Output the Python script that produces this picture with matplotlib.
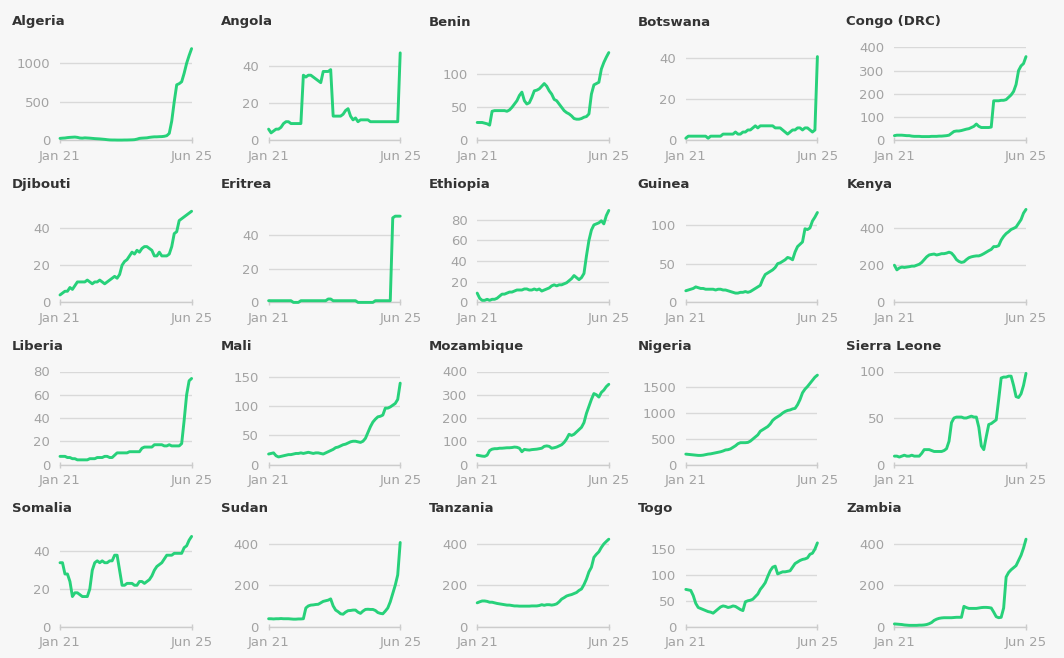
import numpy as np
import matplotlib
matplotlib.use('Agg')
import matplotlib.pyplot as plt

countries = ['Algeria', 'Angola', 'Benin', 'Botswana', 'Congo (DRC)',
             'Djibouti', 'Eritrea', 'Ethiopia', 'Guinea', 'Kenya',
             'Liberia', 'Mali', 'Mozambique', 'Nigeria', 'Sierra Leone',
             'Somalia', 'Sudan', 'Tanzania', 'Togo', 'Zambia']

# monthly values, Jan 2021 .. Jun 2025
algeria = [25,28,30,35,38,40,42,38,30,28, 32,30,28,25,22,20,18,15,12,8, 5,4,4,3,3,3,4,4,5,6,
           8,15,25,28,30,32,38,42,45,45, 47,48,52,60,90,250,500,720,735,760, 870,1000,1100,1190]
angola = [6,4,5,6,6,7,9,10,10,9, 9,9,9,9,35,34,35,35,34,33, 32,31,37,37,37,38,13,13,13,13,
          14,16,17,13,11,12,10,11,11,11, 11,10,10,10,10,10,10,10,10,10, 10,10,10,47]
benin = [27,27,27,26,25,23,44,45,45,45, 45,45,44,46,50,55,60,68,73,60, 55,57,65,75,76,78,82,86,82,75,
         70,62,60,55,50,45,42,40,37,33, 32,32,33,35,36,40,70,84,86,88, 108,118,126,133]
botswana = [1,2,2,2,2,2,2,2,2,1, 2,2,2,2,2,3,3,3,3,3, 4,3,3,4,4,5,5,6,7,6,
            7,7,7,7,7,7,6,6,6,5, 4,3,4,5,5,6,6,5,6,6, 5,4,5,40.5]
congo = [20,22,22,22,21,20,20,18,17,17, 17,16,16,16,16,17,17,17,18,18, 19,20,22,30,38,40,40,42,45,48,
         50,55,60,70,60,55,55,55,55,57, 170,170,170,172,172,175,185,195,210,240, 300,320,330,360]
djibouti = [4,5,6,6,8,7,9,11,11,11, 11,12,11,10,11,11,12,11,10,11, 12,13,14,13,15,20,22,23,25,27,
            26,28,27,29,30,30,29,28,25,25, 27,25,25,25,26,30,37,38,44,45, 46,47,48,49]
eritrea = [1,1,1,1,1,1,1,1,1,1, 0,0,0,1,1,1,1,1,1,1, 1,1,1,1,2,2,1,1,1,1,
           1,1,1,1,1,1,0,0,0,0, 0,0,0,1,1,1,1,1,1,1, 50,51,51,51]
ethiopia = [9,4,2,2,3,2,3,3,4,6, 8,8,9,10,10,11,12,12,12,13, 13,12,12,13,12,13,11,12,13,14,
            16,17,16,17,17,18,19,21,23,26, 24,22,24,28,45,60,70,75,76,77, 79,76,84,89]
guinea = [15,16,17,18,20,19,18,18,17,17, 17,17,16,17,17,16,16,15,14,13, 12,12,13,13,14,13,14,16,18,20,
          22,30,36,38,40,42,45,50,51,53, 55,58,57,55,65,72,75,78,95,94, 96,105,110,116]
kenya = [200,175,185,190,188,190,192,195,195,200, 205,215,230,245,255,258,260,255,258,262,
         262,265,270,265,250,230,220,215,218,230, 240,245,248,250,250,255,262,270,278,285,
         300,300,305,335,355,370,380,392,398,405, 425,445,480,500]
liberia = [7,7,7,6,6,5,5,4,4,4, 4,4,5,5,5,6,6,6,7,7, 6,6,8,10,10,10,10,10,11,11,
           11,11,11,14,15,15,15,15,17,17, 17,17,16,16,17,16,16,16,16,18, 38,60,72,74]
mali = [18,19,20,15,13,14,15,16,17,17, 18,19,19,20,19,20,21,20,19,20, 20,19,18,20,22,24,26,29,30,32,
        34,35,37,39,40,40,39,38,40,45, 55,65,73,78,82,83,85,97,97,99, 102,105,112,140]
mozambique = [40,38,36,35,40,60,66,68,68,70, 70,71,72,72,73,75,74,70,55,65, 63,62,64,65,66,68,70,78,80,78,
              70,72,75,80,85,95,110,130,125,130, 140,150,160,180,220,250,280,305,300,290, 310,320,335,345]
nigeria = [200,195,190,185,180,175,175,180,190,200, 205,215,225,235,245,260,280,285,300,330,
           360,400,420,420,420,425,450,490,530,570, 640,670,700,730,780,850,890,920,950,990,
           1020,1040,1050,1070,1080,1150,1250,1380,1450,1500, 1560,1620,1680,1720]
sierra_leone = [9,9,8,9,10,9,9,10,9,9, 9,12,16,16,16,15,14,14,14,14, 15,17,25,45,50,51,51,51,50,50,
                51,52,51,51,40,20,16,30,43,44, 46,48,70,93,94,94,95,95,85,73, 72,76,85,98]
somalia = [34,34,28,28,24,16,18,18,17,16, 16,16,20,30,34,35,34,35,34,34, 35,35,38,38,30,22,22,23,23,23,
           22,22,24,24,23,24,25,27,30,32, 33,34,36,38,38,38,39,39,39,39, 42,43,46,48]
sudan = [38,38,37,38,38,39,38,38,38,37, 36,36,37,37,38,90,100,104,105,107, 108,115,122,125,128,134,100,80,72,62,
         60,70,77,78,80,80,70,64,75,83, 84,83,83,78,68,64,62,75,90,120, 160,200,250,407]
tanzania = [115,120,124,124,122,118,118,115,112,110, 108,106,104,104,102,100,100,99,99,99,
            99,99,100,100,100,102,106,103,106,106, 104,106,110,120,133,140,148,152,155,160,
            165,175,182,203,230,265,287,335,350,362, 383,400,412,423]
togo = [72,71,70,60,45,37,35,33,31,29, 28,26,30,34,38,40,39,37,38,40, 39,36,33,31,48,50,51,53,58,63,
        72,78,85,97,108,115,117,102,104,106, 106,107,108,115,122,125,128,130,131,133, 140,142,150,162]
zambia = [13,12,11,10,8,7,6,6,6,6, 7,7,8,10,14,20,30,36,40,42, 43,43,43,43,44,45,45,45,98,92,
          88,88,88,88,90,92,93,93,92,90, 70,48,43,45,90,240,262,275,285,295, 320,345,380,423]

series = [algeria, angola, benin, botswana, congo, djibouti, eritrea, ethiopia, guinea, kenya,
          liberia, mali, mozambique, nigeria, sierra_leone, somalia, sudan, tanzania, togo, zambia]

yticks = [[0,500,1000], [0,20,40], [0,50,100], [0,20,40], [0,100,200,300,400],
          [0,20,40], [0,20,40], [0,20,40,60,80], [0,50,100], [0,200,400],
          [0,20,40,60,80], [0,50,100,150], [0,100,200,300,400], [0,500,1000,1500], [0,50,100],
          [0,20,40], [0,200,400], [0,200,400], [0,50,100,150], [0,200,400]]
ymax = [1207, 50, 141, 45, 400, 50, 55, 90, 120, 500,
        80, 160, 400, 1790, 100, 49.5, 450, 450, 180, 450]
xlabels = ['Jan 21', 'Jun 25']

bg = '#f7f7f7'
green = '#27d17a'
grey = '#a3a3a3'
W, H = 1064, 658

fig = plt.figure(figsize=(W/100, H/100), dpi=100, facecolor=bg)

for i, name in enumerate(countries):
    r, c = divmod(i, 5)
    left = 60 + 208.6*c
    zero = 140.3 + 162.1*r
    ax = fig.add_axes([left/W, 1 - zero/H, 131.6/W, 93/H], facecolor=bg)
    vals = series[i]
    x = np.linspace(0, 53, len(vals))
    ax.plot(x, vals, color=green, lw=2.1, solid_capstyle='round', clip_on=False, zorder=3)
    ax.set_xlim(0, 53)
    ax.set_ylim(0, ymax[i])
    ax.set_yticks(yticks[i])
    ax.set_xticks([0, 53])
    ax.set_xticklabels(xlabels)
    ax.yaxis.grid(True, color='#d9d9d9', lw=1)
    ax.set_axisbelow(True)
    for s in ['top', 'right', 'left']:
        ax.spines[s].set_visible(False)
    ax.spines['bottom'].set_color('#cccccc')
    ax.spines['bottom'].set_linewidth(1)
    ax.tick_params(axis='y', length=0, pad=7, labelsize=9.5, labelcolor=grey)
    ax.tick_params(axis='x', length=4, direction='inout', width=1, color='#cccccc',
                   pad=5, labelsize=9.5, labelcolor=grey)
    fig.text((12 + 208.6*c)/W, 1 - (22 + 162.1*r)/H, name, fontsize=9.5, fontweight='bold',
             color='#333333', ha='left', va='center')

fig.savefig('out.png', dpi=100, facecolor=bg)
